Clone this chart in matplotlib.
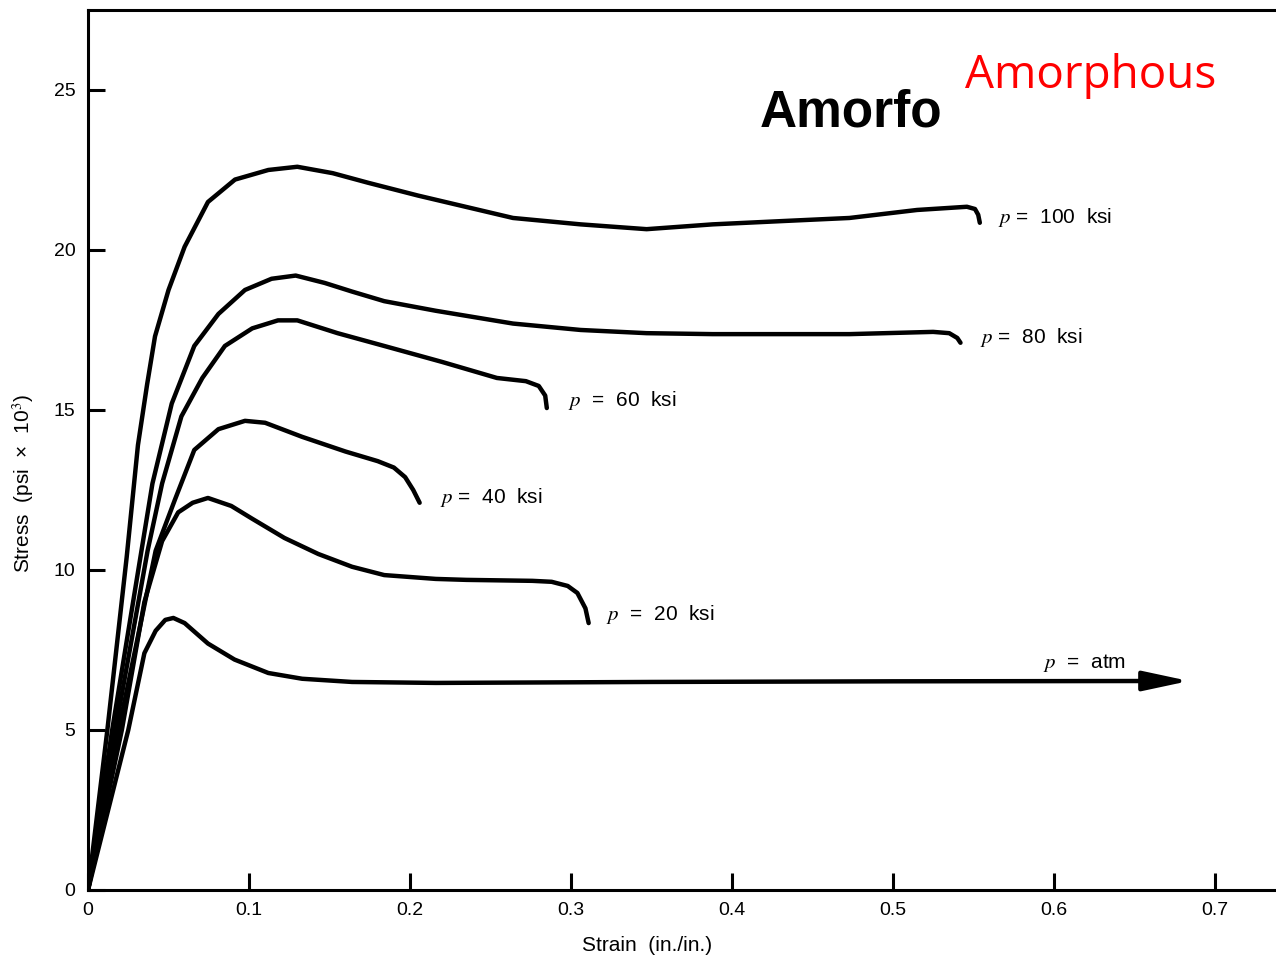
import matplotlib.pyplot as plt

plt.rcParams['font.family'] = ['Liberation Sans', 'DejaVu Sans']
plt.rcParams['mathtext.fontset'] = 'stix'

# strain (in./in.) and stress (psi x 10^3)
strain_atm = [0, 0.025, 0.035, 0.042, 0.048, 0.053, 0.060, 0.0745, 0.091, 0.112, 0.133, 0.164, 0.216, 0.35, 0.5, 0.665]
stress_atm = [0, 5, 7.4, 8.1, 8.44, 8.5, 8.34, 7.7, 7.2, 6.78, 6.6, 6.5, 6.47, 6.5, 6.52, 6.53]

strain_20 = [0, 0.021, 0.035, 0.046, 0.056, 0.065, 0.0745, 0.089, 0.102, 0.122, 0.143, 0.164, 0.184,
             0.216, 0.235, 0.276, 0.288, 0.298, 0.304, 0.309, 0.311]
stress_20 = [0, 5, 9.0, 10.9, 11.8, 12.1, 12.25, 12.0, 11.6, 11.0, 10.5, 10.1, 9.84,
             9.72, 9.69, 9.66, 9.63, 9.5, 9.28, 8.8, 8.34]

strain_40 = [0, 0.019, 0.042, 0.054, 0.066, 0.081, 0.0975, 0.11, 0.133, 0.160, 0.180, 0.190, 0.197, 0.202, 0.206]
stress_40 = [0, 5, 10.6, 12.2, 13.75, 14.4, 14.66, 14.6, 14.16, 13.7, 13.4, 13.2, 12.9, 12.5, 12.1]

strain_60 = [0, 0.017, 0.037, 0.046, 0.058, 0.071, 0.085, 0.102, 0.118, 0.130, 0.155, 0.184, 0.22,
             0.254, 0.272, 0.280, 0.284, 0.285]
stress_60 = [0, 5, 10.6, 12.7, 14.8, 16.0, 17.0, 17.55, 17.8, 17.8, 17.4, 17.0, 16.5,
             16.0, 15.9, 15.75, 15.45, 15.06]

strain_80 = [0, 0.015, 0.040, 0.052, 0.066, 0.081, 0.0975, 0.114, 0.129, 0.147, 0.164, 0.184, 0.216,
             0.264, 0.306, 0.347, 0.388, 0.430, 0.473, 0.525, 0.535, 0.540, 0.542]
stress_80 = [0, 5, 12.7, 15.2, 17.0, 18.0, 18.75, 19.1, 19.2, 18.97, 18.7, 18.4, 18.1,
             17.7, 17.5, 17.4, 17.37, 17.37, 17.37, 17.44, 17.4, 17.25, 17.1]

strain_100 = [0, 0.012, 0.024, 0.031, 0.0367, 0.0416, 0.050, 0.060, 0.0745, 0.0913, 0.112, 0.130, 0.152,
              0.174, 0.205, 0.264, 0.306, 0.347, 0.388, 0.430, 0.473, 0.515, 0.546, 0.551, 0.553, 0.554]
stress_100 = [0, 5, 10.4, 13.9, 15.8, 17.3, 18.75, 20.1, 21.5, 22.2, 22.5, 22.6, 22.4,
              22.1, 21.7, 21.0, 20.8, 20.65, 20.8, 20.9, 21.0, 21.25, 21.35, 21.28, 21.1, 20.85]

x_ticks = [0, 0.1, 0.2, 0.3, 0.4, 0.5, 0.6, 0.7]
x_ticklabels = ['0', '0.1', '0.2', '0.3', '0.4', '0.5', '0.6', '0.7']
y_ticks = [0, 5, 10, 15, 20, 25]

fig = plt.figure(figsize=(12.76, 9.59), dpi=100)
ax = fig.add_axes([0.069, 0.072, 0.931, 0.9176])

for sx, sy in [(strain_atm, stress_atm), (strain_20, stress_20), (strain_40, stress_40),
               (strain_60, stress_60), (strain_80, stress_80), (strain_100, stress_100)]:
    ax.plot(sx, sy, color='black', lw=3.2, solid_joinstyle='round', solid_capstyle='round')

# arrow head at the end of the atmospheric curve
ax.annotate('', xy=(0.684, stress_atm[-1]), xytext=(strain_atm[-1] - 0.01, stress_atm[-1]),
            arrowprops=dict(arrowstyle='-|>,head_length=1.4,head_width=0.3', color='black',
                            lw=3, mutation_scale=20, shrinkA=0, shrinkB=0))

lbl = dict(fontsize=15, color='black', va='center', ha='left')
ax.text(0.565, 21.0, '$p$ =  100  ksi', **lbl)
ax.text(0.554, 17.25, '$p$ =  80  ksi', **lbl)
ax.text(0.298, 15.3, '$p$  =  60  ksi', **lbl)
ax.text(0.2186, 12.28, '$p$ =  40  ksi', **lbl)
ax.text(0.322, 8.6, '$p$  =  20  ksi', **lbl)
ax.text(0.593, 7.1, '$p$  =  atm', **lbl)

ax.set_xlim(0, 0.738)
ax.set_ylim(0, 27.5)
ax.set_xticks(x_ticks)
ax.set_xticklabels(x_ticklabels)
ax.set_yticks(y_ticks)
ax.tick_params(direction='in', length=12, width=2.2, labelsize=14, pad=9)

for side in ['left', 'top', 'bottom']:
    ax.spines[side].set_linewidth(2.2)
ax.spines['right'].set_visible(False)

ax.set_xlabel('Strain  (in./in.)', fontsize=15)
ax.xaxis.set_label_coords(0.4705, -0.052)
ax.set_ylabel('Stress  (psi  ×  10$^3$)', fontsize=15)
ax.yaxis.set_label_coords(-0.044, 0.462)

fig.text(0.5956, 0.8676, 'Amorfo', fontsize=37, fontweight='bold', color='black', ha='left', va='baseline')
fig.text(0.7563, 0.9082, 'Amorphous', fontsize=33, color='#ff0000', ha='left', va='baseline',
         family=['Open Sans', 'DejaVu Sans'])

fig.savefig('out.png', dpi=100)
